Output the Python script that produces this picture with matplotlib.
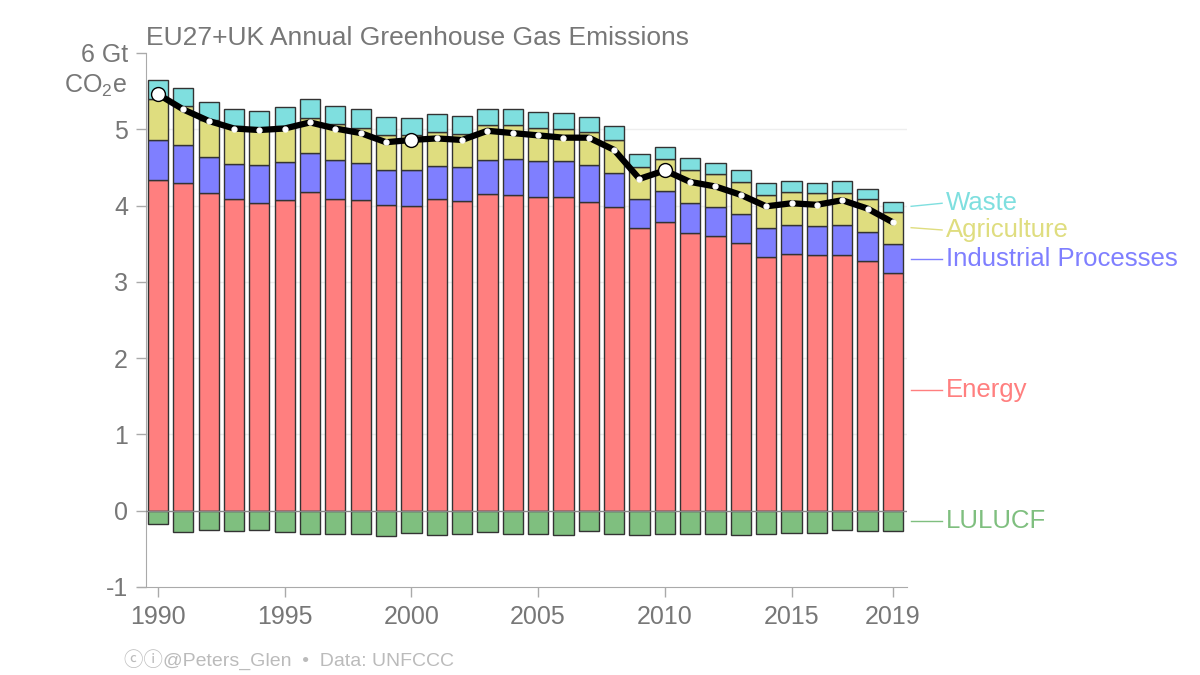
import numpy as np
import matplotlib
matplotlib.use('Agg')
from matplotlib import pyplot as plt

plt.rcParams['font.family'] = ['Liberation Sans', 'DejaVu Sans']
plt.rcParams['mathtext.fontset'] = 'custom'
plt.rcParams['mathtext.rm'] = 'Liberation Sans'

years = list(range(1990, 2020))
energy = [4.33, 4.29, 4.16, 4.09, 4.03, 4.07, 4.18, 4.09, 4.07, 4.01,
          4.00, 4.08, 4.06, 4.15, 4.14, 4.11, 4.11, 4.05, 3.98, 3.70,
          3.79, 3.64, 3.60, 3.51, 3.32, 3.37, 3.35, 3.35, 3.27, 3.12]
industrial = [0.53, 0.50, 0.48, 0.46, 0.50, 0.50, 0.51, 0.51, 0.49, 0.45,
              0.46, 0.44, 0.44, 0.45, 0.47, 0.48, 0.48, 0.48, 0.45, 0.38,
              0.40, 0.39, 0.38, 0.38, 0.39, 0.37, 0.38, 0.39, 0.38, 0.37]
agriculture = [0.54, 0.51, 0.48, 0.49, 0.47, 0.47, 0.46, 0.47, 0.46, 0.46,
               0.46, 0.45, 0.44, 0.45, 0.44, 0.43, 0.42, 0.44, 0.43, 0.42,
               0.42, 0.43, 0.43, 0.42, 0.43, 0.44, 0.43, 0.43, 0.43, 0.43]
waste = [0.24, 0.24, 0.24, 0.23, 0.24, 0.25, 0.25, 0.24, 0.24, 0.24,
         0.23, 0.23, 0.23, 0.21, 0.21, 0.20, 0.20, 0.19, 0.18, 0.17,
         0.16, 0.16, 0.15, 0.15, 0.15, 0.14, 0.14, 0.15, 0.14, 0.13]
lulucf = [-0.18, -0.28, -0.25, -0.26, -0.25, -0.28, -0.31, -0.30, -0.31, -0.33,
          -0.29, -0.32, -0.31, -0.28, -0.31, -0.30, -0.32, -0.27, -0.31, -0.32,
          -0.31, -0.31, -0.31, -0.32, -0.30, -0.29, -0.29, -0.25, -0.26, -0.27]
highlight_years = [1990, 2000, 2010]
xtick_years = [1990, 1995, 2000, 2005, 2010, 2015, 2019]

c_energy = '#ff7f7f'
c_ip = '#7f7fff'
c_agri = '#dfdd7f'
c_waste = '#7fdfdf'
c_lulucf = '#7fbf7f'
grey = '#777777'

x = np.array(years)
e = np.array(energy)
ip = np.array(industrial)
ag = np.array(agriculture)
w = np.array(waste)
lu = np.array(lulucf)
net = e + ip + ag + w + lu

fig = plt.figure(figsize=(12, 6.75), dpi=100)
ax = fig.add_axes([0.1217, 0.1304, 0.634, 0.7911])

bar_kw = dict(width=0.8, edgecolor='#333333', linewidth=1, zorder=3)
ax.bar(x, e, color=c_energy, **bar_kw)
ax.bar(x, ip, bottom=e, color=c_ip, **bar_kw)
ax.bar(x, ag, bottom=e + ip, color=c_agri, **bar_kw)
ax.bar(x, w, bottom=e + ip + ag, color=c_waste, **bar_kw)
ax.bar(x, lu, color=c_lulucf, **bar_kw)

ax.plot(x, net, color='black', lw=4.5, zorder=5, solid_capstyle='round',
        solid_joinstyle='round')
ax.plot(x, net, 'o', ms=3.5, mfc='white', mec='white', zorder=6)
hl = np.isin(x, highlight_years)
ax.plot(x[hl], net[hl], 'o', ms=10, mfc='white', mec='black', mew=1, zorder=7)

ax.axhline(0, color='#888888', lw=1, zorder=4)
for v in range(1, 6):
    ax.axhline(v, color='#eeeeee', lw=1, zorder=1)

ax.set_xlim(1989.53, 2019.55)
ax.set_ylim(-1, 6)
ax.set_xticks(xtick_years)
ax.set_xticklabels([str(t) for t in xtick_years])
ax.set_yticks(range(-1, 7))
ax.set_yticklabels(['-1', '0', '1', '2', '3', '4', '5', '6 Gt'])
ax.tick_params(colors='#aaaaaa', labelcolor=grey, labelsize=18, length=7, width=1, pad=6)
for s in ['top', 'right']:
    ax.spines[s].set_visible(False)
for s in ['left', 'bottom']:
    ax.spines[s].set_color('#aaaaaa')
ax.spines['bottom'].set_bounds(1989.2, 2019.55)

ax.text(-0.025, 5.57, r'CO$_\mathregular{2}$e', transform=ax.get_yaxis_transform(),
        ha='right', va='center', fontsize=18, color=grey)

ax.text(0.0, 1.015, 'EU27+UK Annual Greenhouse Gas Emissions',
        transform=ax.transAxes, ha='left', va='baseline', fontsize=19, color=grey)

labels = [('Waste', c_waste, 3.99, 4.03),
          ('Agriculture', c_agri, 3.71, 3.68),
          ('Industrial Processes', c_ip, 3.30, 3.30),
          ('Energy', c_energy, 1.58, 1.58),
          ('LULUCF', c_lulucf, -0.13, -0.13)]
for name, col, y0, y1 in labels:
    ax.plot([2019.72, 2020.94], [y0, y1], color=col, lw=1, clip_on=False)
    ax.text(2021.1, y1, name, color=col, fontsize=18.5, ha='left', va='center',
            clip_on=False)

fig.text(0.103, 0.008, '\u24d2\u24d8@Peters_Glen  \u2022  Data: UNFCCC',
         fontsize=14, color='#bbbbbb', ha='left', va='bottom',
         family=['Liberation Sans', 'Noto Sans CJK JP', 'DejaVu Sans'])

fig.savefig('out.png', dpi=100)
